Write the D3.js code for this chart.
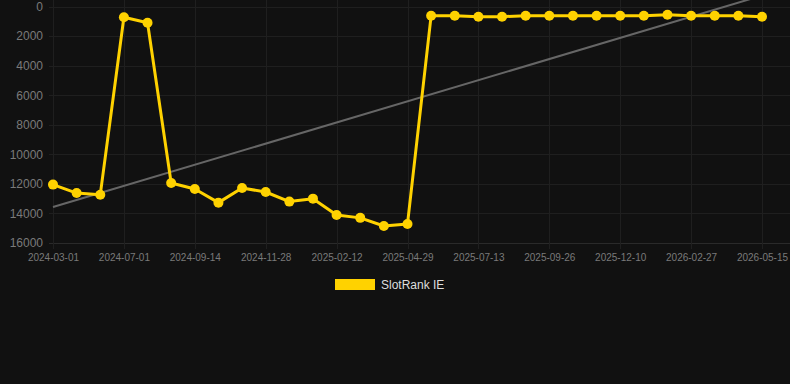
<!DOCTYPE html>
<html>
<head>
<meta charset="utf-8">
<script src="https://cdn.jsdelivr.net/npm/d3@7"></script>
<style>
  html, body { margin: 0; padding: 0; background: #111111; }
  svg { display: block; font-family: Arial, "Liberation Sans", sans-serif; }
</style>
</head>
<body>
<script>

// dates of each point (category axis), label shown on every 3rd one
var dates = [
  "2024-03-01", "2024-04-10", "2024-05-20", "2024-07-01", "2024-07-26", "2024-08-20",
  "2024-09-14", "2024-10-09", "2024-11-03", "2024-11-28", "2024-12-23", "2025-01-18",
  "2025-02-12", "2025-03-09", "2025-04-04", "2025-04-29", "2025-05-24", "2025-06-18",
  "2025-07-13", "2025-08-07", "2025-09-01", "2025-09-26", "2025-10-21", "2025-11-15",
  "2025-12-10", "2026-01-04", "2026-02-01", "2026-02-27", "2026-03-24", "2026-04-19",
  "2026-05-15"
];

// rank values
var ranks = [
  12050, 12620, 12730, 730, 1095, 11940,
  12350, 13270, 12280, 12550, 13200, 13000,
  14100, 14300, 14850, 14710, 620, 620,
  690, 690, 620, 620, 620, 620,
  620, 620, 555, 620, 620, 620,
  690
];

// trend line start and end values (first and last category)
var trendValues = [13570, -740];

var yTicks = [0, 2000, 4000, 6000, 8000, 10000, 12000, 14000, 16000];
var seriesName = "SlotRank IE";

window.onload = function() {

  var chartPad = {
    w: 790,
    h: 384,
    top: 6.5,
    bottom: 141,
    left: 53,
    right: 28
  };

  drawChart(chartPad);
};

function drawChart(chartPad) {

  var svg = d3.select("body")
            .append("svg")
              .attr("width", chartPad.w)
              .attr("height", chartPad.h);

  var xScale = d3.scalePoint()
                 .domain(dates)
                 .range([chartPad.left, chartPad.w - chartPad.right]);

  var yScale = d3.scaleLinear()
                 .domain([0, 16000])
                 .range([chartPad.top, chartPad.h - chartPad.bottom]);

  var labelDates = dates.filter(function(d, i) { return i % 3 === 0; });

  // horizontal grid
  svg.append("g")
    .selectAll("line")
    .data(yTicks)
    .enter()
  .append("line")
    .attr("x1", chartPad.left - 4)
    .attr("x2", chartPad.w)
    .attr("y1", function(d) { return Math.round(yScale(d)) + 0.5; })
    .attr("y2", function(d) { return Math.round(yScale(d)) + 0.5; })
    .attr("stroke", function(d) { return d === 16000 ? "#2a2a2a" : "#1f1f1f"; })
    .attr("stroke-width", 1);

  // vertical grid
  svg.append("g")
    .selectAll("line")
    .data(labelDates)
    .enter()
  .append("line")
    .attr("x1", function(d) { return Math.round(xScale(d)) + 0.5; })
    .attr("x2", function(d) { return Math.round(xScale(d)) + 0.5; })
    .attr("y1", 0)
    .attr("y2", yScale(16000) + 6)
    .attr("stroke", "#1f1f1f")
    .attr("stroke-width", 1);

  // y axis labels
  var yAxis = d3.axisLeft(yScale)
                .tickValues(yTicks)
                .tickSize(0)
                .tickPadding(10)
                .tickFormat(d3.format("d"));

  var gy = svg.append("g")
    .attr("transform", "translate(" + chartPad.left + ",0)")
    .call(yAxis);
  gy.select(".domain").remove();
  gy.selectAll("text")
    .attr("fill", "#7a7a7a")
    .style("font-size", "12px")
    .style("font-family", "Arial, 'Liberation Sans', sans-serif");

  // x axis labels
  var xAxis = d3.axisBottom(xScale)
                .tickValues(labelDates)
                .tickSize(0)
                .tickPadding(11);

  var gx = svg.append("g")
    .attr("transform", "translate(0," + yScale(16000) + ")")
    .call(xAxis);
  gx.select(".domain").remove();
  gx.selectAll("text")
    .attr("fill", "#7a7a7a")
    .style("font-size", "10px")
    .style("font-family", "Arial, 'Liberation Sans', sans-serif");

  // trend line
  var trend = [
    { x: xScale(dates[0]), y: yScale(trendValues[0]) },
    { x: xScale(dates[dates.length - 1]), y: yScale(trendValues[1]) }
  ];

  svg.append("clipPath")
      .attr("id", "clip")
    .append("rect")
      .attr("x", 0)
      .attr("y", 0)
      .attr("width", chartPad.w)
      .attr("height", chartPad.h);

  svg.append("line")
    .attr("clip-path", "url(#clip)")
    .attr("x1", trend[0].x)
    .attr("y1", trend[0].y)
    .attr("x2", trend[1].x)
    .attr("y2", trend[1].y)
    .attr("stroke", "#666666")
    .attr("stroke-width", 2);

  // data line
  var line = d3.line()
               .x(function(d, i) { return xScale(dates[i]); })
               .y(function(d) { return yScale(d); });

  svg.append("path")
    .datum(ranks)
    .attr("d", line)
    .attr("fill", "none")
    .attr("stroke", "#FFD200")
    .attr("stroke-width", 3)
    .attr("stroke-linejoin", "round");

  svg.append("g")
    .selectAll("circle")
    .data(ranks)
    .enter()
  .append("circle")
    .attr("cx", function(d, i) { return xScale(dates[i]); })
    .attr("cy", function(d) { return yScale(d); })
    .attr("r", 5)
    .attr("fill", "#FFD200");

  // legend
  var legend = svg.append("g")
    .attr("transform", "translate(335,279)");

  legend.append("rect")
    .attr("x", 0)
    .attr("y", 0)
    .attr("width", 40)
    .attr("height", 11)
    .attr("fill", "#FFD200");

  legend.append("text")
    .attr("x", 46)
    .attr("y", 9.5)
    .attr("fill", "#dddddd")
    .style("font-size", "12px")
    .text(seriesName);
}
</script>
</body>
</html>
